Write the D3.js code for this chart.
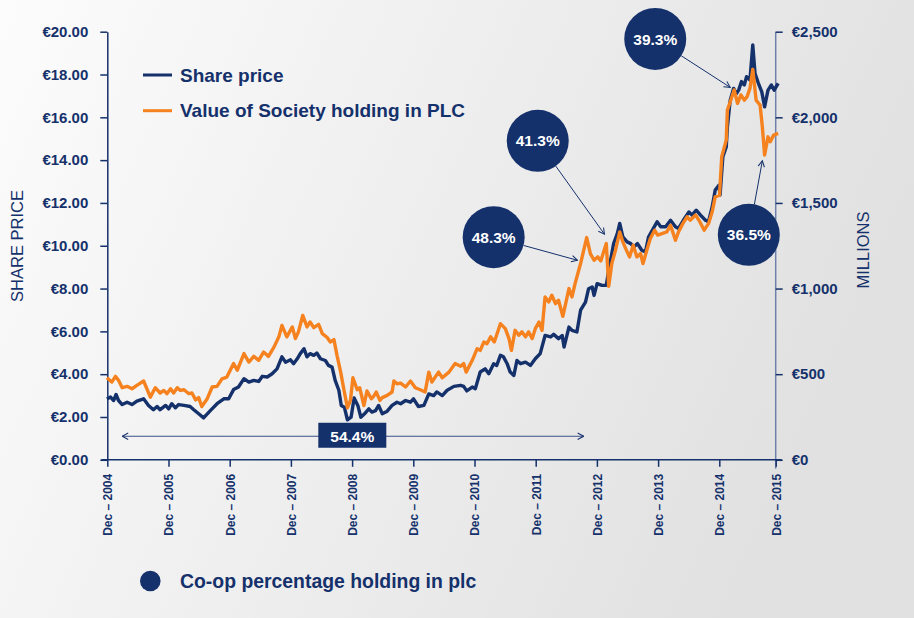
<!DOCTYPE html>
<html>
<head>
<meta charset="utf-8">
<script src="https://cdnjs.cloudflare.com/ajax/libs/d3/7.8.5/d3.min.js"></script>
<style>
  html, body { margin: 0; padding: 0; }
  body { width: 914px; height: 618px; overflow: hidden; }
  text { font-family: "Liberation Sans", Arial, Helvetica, sans-serif; }
</style>
</head>
<body>
<div id="chart"></div>
<script>
// Share price (EUR), [decimal year, price]
const sharePrice = [
  [2004.91, 2.84], [2004.97, 2.93], [2005.02, 2.77], [2005.06, 3.05], [2005.10, 2.77],
  [2005.16, 2.58], [2005.24, 2.69], [2005.32, 2.58], [2005.40, 2.74], [2005.51, 2.85],
  [2005.59, 2.54], [2005.67, 2.34], [2005.73, 2.49], [2005.78, 2.34], [2005.87, 2.54],
  [2005.92, 2.38], [2005.97, 2.62], [2006.03, 2.43], [2006.08, 2.58], [2006.17, 2.54],
  [2006.27, 2.49], [2006.33, 2.34], [2006.41, 2.15], [2006.49, 1.96], [2006.60, 2.30],
  [2006.71, 2.62], [2006.82, 2.85], [2006.90, 2.85], [2006.98, 3.28], [2007.06, 3.40],
  [2007.15, 3.79], [2007.23, 3.63], [2007.31, 3.71], [2007.39, 3.66], [2007.45, 3.90],
  [2007.53, 3.87], [2007.61, 4.02], [2007.69, 4.25], [2007.77, 4.81], [2007.83, 4.56],
  [2007.91, 4.67], [2007.96, 4.49], [2008.02, 4.72], [2008.07, 4.96], [2008.13, 5.19],
  [2008.18, 4.81], [2008.23, 4.96], [2008.29, 4.88], [2008.34, 4.99], [2008.40, 4.72],
  [2008.48, 4.64], [2008.53, 4.41], [2008.59, 4.33], [2008.64, 3.71], [2008.70, 3.25],
  [2008.74, 2.54], [2008.79, 2.46], [2008.84, 1.87], [2008.90, 1.99], [2008.95, 2.89],
  [2009.01, 2.54], [2009.06, 1.99], [2009.12, 2.15], [2009.19, 2.38], [2009.24, 2.23],
  [2009.30, 2.30], [2009.35, 2.54], [2009.41, 2.15], [2009.49, 2.27], [2009.57, 2.54],
  [2009.65, 2.69], [2009.71, 2.62], [2009.79, 2.77], [2009.87, 2.69], [2009.92, 2.85],
  [2010.00, 2.49], [2010.09, 2.54], [2010.17, 3.08], [2010.25, 3.00], [2010.30, 3.17],
  [2010.39, 3.00], [2010.47, 3.25], [2010.58, 3.43], [2010.69, 3.48], [2010.74, 3.43],
  [2010.79, 3.22], [2010.88, 3.40], [2010.93, 3.32], [2011.01, 4.10], [2011.09, 4.25],
  [2011.15, 4.02], [2011.23, 4.49], [2011.28, 4.41], [2011.34, 4.88], [2011.39, 4.81],
  [2011.45, 4.49], [2011.50, 4.10], [2011.56, 3.94], [2011.61, 4.64], [2011.67, 4.49],
  [2011.75, 4.56], [2011.83, 4.41], [2011.91, 4.72], [2011.99, 4.96], [2012.07, 5.81],
  [2012.16, 5.74], [2012.21, 5.86], [2012.29, 5.66], [2012.35, 5.81], [2012.38, 5.27],
  [2012.46, 6.20], [2012.51, 6.05], [2012.59, 5.97], [2012.65, 6.99], [2012.73, 7.37],
  [2012.78, 7.99], [2012.84, 8.07], [2012.87, 7.68], [2012.92, 8.23], [2013.00, 8.15],
  [2013.07, 8.15], [2013.11, 8.86], [2013.19, 10.10], [2013.25, 10.57], [2013.29, 11.04],
  [2013.34, 10.41], [2013.41, 10.18], [2013.47, 10.10], [2013.52, 9.94], [2013.58, 10.10],
  [2013.65, 9.79], [2013.71, 9.71], [2013.76, 10.41], [2013.84, 10.81], [2013.90, 11.12],
  [2013.96, 10.89], [2014.04, 10.89], [2014.12, 11.19], [2014.20, 10.89], [2014.25, 10.81],
  [2014.33, 11.19], [2014.42, 11.58], [2014.47, 11.43], [2014.54, 11.66], [2014.61, 11.43],
  [2014.69, 11.19], [2014.74, 11.12], [2014.80, 11.81], [2014.85, 12.60], [2014.91, 12.83],
  [2014.93, 12.37], [2014.98, 14.16], [2015.04, 14.62], [2015.06, 15.55], [2015.11, 16.80],
  [2015.17, 17.35], [2015.22, 17.11], [2015.26, 17.27], [2015.31, 17.67], [2015.36, 17.51],
  [2015.40, 17.90], [2015.46, 17.74], [2015.51, 19.38], [2015.55, 18.05], [2015.61, 17.59],
  [2015.67, 17.19], [2015.72, 16.49], [2015.78, 17.27], [2015.84, 17.51], [2015.89, 17.27],
  [2015.96, 17.59]
];

// Value of Society holding in PLC (EUR millions), [decimal year, value]
const societyHolding = [
  [2004.91, 479], [2004.99, 454], [2005.05, 487], [2005.10, 464], [2005.16, 421],
  [2005.24, 429], [2005.32, 415], [2005.40, 435], [2005.51, 460], [2005.62, 366],
  [2005.70, 421], [2005.78, 390], [2005.84, 405], [2005.89, 386], [2005.95, 415],
  [2006.00, 390], [2006.06, 421], [2006.11, 405], [2006.17, 409], [2006.25, 386],
  [2006.30, 390], [2006.36, 350], [2006.41, 363], [2006.46, 311], [2006.55, 357],
  [2006.63, 425], [2006.71, 429], [2006.79, 473], [2006.87, 483], [2006.98, 562],
  [2007.04, 523], [2007.15, 620], [2007.23, 571], [2007.31, 604], [2007.39, 581],
  [2007.47, 629], [2007.55, 604], [2007.64, 658], [2007.72, 718], [2007.77, 785],
  [2007.85, 718], [2007.94, 776], [2007.99, 708], [2008.04, 747], [2008.11, 843],
  [2008.18, 776], [2008.23, 805], [2008.29, 772], [2008.37, 791], [2008.43, 737],
  [2008.51, 714], [2008.56, 688], [2008.62, 702], [2008.67, 610], [2008.73, 512],
  [2008.78, 415], [2008.84, 304], [2008.89, 347], [2008.93, 479], [2009.00, 409],
  [2009.04, 421], [2009.11, 317], [2009.16, 402], [2009.23, 357], [2009.27, 371],
  [2009.31, 396], [2009.37, 347], [2009.41, 363], [2009.49, 376], [2009.57, 396],
  [2009.60, 460], [2009.65, 444], [2009.71, 448], [2009.79, 425], [2009.87, 460],
  [2009.95, 421], [2010.03, 409], [2010.11, 396], [2010.17, 512], [2010.22, 454],
  [2010.33, 512], [2010.39, 479], [2010.50, 512], [2010.60, 562], [2010.69, 546],
  [2010.74, 562], [2010.78, 512], [2010.88, 581], [2010.96, 649], [2011.01, 639],
  [2011.07, 688], [2011.12, 678], [2011.18, 718], [2011.24, 688], [2011.34, 795],
  [2011.42, 766], [2011.48, 708], [2011.52, 639], [2011.58, 756], [2011.64, 727],
  [2011.69, 747], [2011.75, 718], [2011.80, 747], [2011.86, 708], [2011.91, 766],
  [2011.97, 805], [2012.02, 756], [2012.07, 951], [2012.13, 922], [2012.18, 961],
  [2012.24, 912], [2012.29, 932], [2012.36, 838], [2012.46, 1000], [2012.51, 951],
  [2012.56, 1029], [2012.65, 1146], [2012.75, 1298], [2012.81, 1204], [2012.87, 1165],
  [2012.93, 1185], [2012.98, 1161], [2013.07, 1263], [2013.11, 1013], [2013.16, 1146],
  [2013.22, 1223], [2013.29, 1331], [2013.34, 1273], [2013.40, 1223], [2013.45, 1185],
  [2013.51, 1253], [2013.57, 1185], [2013.63, 1204], [2013.67, 1146], [2013.74, 1234],
  [2013.79, 1292], [2013.86, 1341], [2013.91, 1312], [2013.98, 1321], [2014.06, 1331],
  [2014.12, 1370], [2014.20, 1282], [2014.25, 1331], [2014.32, 1379], [2014.39, 1419],
  [2014.44, 1399], [2014.53, 1429], [2014.60, 1389], [2014.67, 1341], [2014.74, 1379],
  [2014.80, 1448], [2014.85, 1535], [2014.92, 1545], [2014.96, 1770], [2015.04, 1867],
  [2015.06, 2042], [2015.12, 2100], [2015.18, 2160], [2015.24, 2081], [2015.30, 2131],
  [2015.36, 2100], [2015.41, 2121], [2015.46, 2169], [2015.51, 2280], [2015.57, 2100],
  [2015.64, 2071], [2015.68, 1944], [2015.72, 1780], [2015.78, 1886], [2015.82, 1857],
  [2015.88, 1896], [2015.96, 1906]
];

const tickYears = [2004, 2005, 2006, 2007, 2008, 2009, 2010, 2011, 2012, 2013, 2014, 2015];
const priceTicks = [0, 2, 4, 6, 8, 10, 12, 14, 16, 18, 20];
const holdingTicks = [0, 500, 1000, 1500, 2000, 2500];

// Co-op percentage holding callouts: circle at (year, price), arrow pointing to (year, price)
const calloutLabels = ["39.3%", "41.3%", "48.3%", "36.5%"];
const calloutCentre = [[2013.87, 19.66], [2011.95, 14.90], [2011.23, 10.40], [2015.44, 10.51]];
const calloutTarget = [[2015.11, 17.40], [2013.04, 10.54], [2012.60, 9.32], [2015.68, 13.97]];
// Span arrow along the bottom
const spanLabel = "54.4%";
const spanRange = [2005.16, 2012.70];
const spanLevel = 1.10;
const spanLabelYear = 2008.92;

const navy = "#15316b";
const orange = "#f5821f";

const width = 914, height = 618;

const svg = d3.select("#chart").append("svg")
    .attr("width", width)
    .attr("height", height);

const defs = svg.append("defs");
const grad = defs.append("linearGradient")
    .attr("id", "bg")
    .attr("x1", "0").attr("y1", "0").attr("x2", "1").attr("y2", "0.3");
grad.append("stop").attr("offset", "0%").attr("stop-color", "#fcfcfc");
grad.append("stop").attr("offset", "100%").attr("stop-color", "#e1e1e1");

defs.append("marker")
    .attr("id", "arrow")
    .attr("viewBox", "0 0 10 10")
    .attr("refX", 9.5).attr("refY", 5)
    .attr("markerWidth", 8).attr("markerHeight", 8)
    .attr("markerUnits", "userSpaceOnUse")
    .attr("orient", "auto-start-reverse")
    .append("path")
    .attr("d", "M2,1 L9.5,5 L2,9")
    .attr("fill", "none")
    .attr("stroke", navy)
    .attr("stroke-width", 1.3);

svg.append("rect")
    .attr("width", width)
    .attr("height", height)
    .attr("fill", "url(#bg)");

const xScale = d3.scaleLinear()
    .domain([2004 + 11 / 12, 2014 + 11 / 12, 2015 + 11 / 12])
    .range([107.3, 719.3, 775.7]);

const yPrice = d3.scaleLinear()
    .domain([0, 20])
    .range([459.8, 31.7]);

const yHolding = d3.scaleLinear()
    .domain([0, 2500])
    .range([459.8, 31.7]);

// Left axis
const leftAxis = svg.append("g")
    .attr("transform", `translate(${xScale.range()[0]},0)`)
    .call(d3.axisLeft(yPrice)
        .tickValues(priceTicks)
        .tickSize(7)
        .tickSizeOuter(0)
        .tickPadding(12)
        .tickFormat(d => "€" + d.toFixed(2)));
leftAxis.select(".domain").attr("stroke", navy).attr("stroke-width", 1.5);
leftAxis.selectAll(".tick line").attr("stroke", navy).attr("stroke-width", 1.5);
leftAxis.selectAll(".tick text")
    .attr("fill", navy)
    .style("font-size", "15px")
    .style("font-weight", "bold");

// Right axis
const xEnd = xScale(2015 + 11 / 12);
svg.append("line")
    .attr("x1", xEnd).attr("x2", xEnd)
    .attr("y1", yHolding(2500)).attr("y2", yHolding(0) + 9)
    .attr("stroke", "#6f80aa")
    .attr("stroke-width", 1.5);
const rightAxis = svg.append("g")
    .attr("transform", `translate(${xEnd},0)`)
    .call(d3.axisRight(yHolding)
        .tickValues(holdingTicks)
        .tickSize(7)
        .tickSizeOuter(0)
        .tickPadding(9)
        .tickFormat(d => "€" + d3.format(",")(d)));
rightAxis.select(".domain").remove();
rightAxis.selectAll(".tick line").attr("stroke", navy).attr("stroke-width", 1.5);
rightAxis.selectAll(".tick text")
    .attr("fill", navy)
    .style("font-size", "15px")
    .style("font-weight", "bold");

// Bottom axis
svg.append("line")
    .attr("x1", xScale.range()[0] - 6).attr("x2", xEnd + 6)
    .attr("y1", yPrice(0)).attr("y2", yPrice(0))
    .attr("stroke", navy)
    .attr("stroke-width", 1.5);
const bottomAxis = svg.append("g")
    .attr("transform", `translate(0,${yPrice(0)})`)
    .call(d3.axisBottom(xScale)
        .tickValues(tickYears.map(y => y + 11 / 12))
        .tickSize(7)
        .tickSizeOuter(0)
        .tickFormat((d, i) => "Dec – " + tickYears[i]));
bottomAxis.select(".domain").remove();
bottomAxis.selectAll(".tick line").attr("stroke", navy).attr("stroke-width", 1.5);
bottomAxis.selectAll(".tick text")
    .attr("fill", navy)
    .attr("transform", "rotate(-90)")
    .attr("x", -14)
    .attr("y", 0)
    .attr("dy", "0.36em")
    .style("text-anchor", "end")
    .style("font-size", "12px")
    .style("font-weight", "bold");

// Axis titles
svg.append("text")
    .attr("transform", "translate(23,246) rotate(-90)")
    .style("text-anchor", "middle")
    .style("font-size", "16.5px")
    .attr("fill", navy)
    .text("SHARE PRICE");

svg.append("text")
    .attr("transform", "translate(869,250) rotate(-90)")
    .style("text-anchor", "middle")
    .style("font-size", "16.5px")
    .attr("fill", navy)
    .text("MILLIONS");

// Lines
const priceLine = d3.line()
    .x(d => xScale(d[0]))
    .y(d => yPrice(d[1]));

const holdingLine = d3.line()
    .x(d => xScale(d[0]))
    .y(d => yHolding(d[1]));

svg.append("path")
    .datum(sharePrice)
    .attr("d", priceLine)
    .attr("fill", "none")
    .attr("stroke", navy)
    .attr("stroke-width", 3.4)
    .attr("stroke-linejoin", "round");

svg.append("path")
    .datum(societyHolding)
    .attr("d", holdingLine)
    .attr("fill", "none")
    .attr("stroke", orange)
    .attr("stroke-width", 3.4)
    .attr("stroke-linejoin", "round");

// Span arrow with label box
svg.append("line")
    .attr("x1", xScale(spanRange[0])).attr("x2", xScale(spanRange[1]))
    .attr("y1", yPrice(spanLevel)).attr("y2", yPrice(spanLevel))
    .attr("stroke", "#3a5089")
    .attr("stroke-width", 1)
    .attr("marker-start", "url(#arrow)")
    .attr("marker-end", "url(#arrow)");

svg.append("rect")
    .attr("x", xScale(spanLabelYear) - 34)
    .attr("y", yPrice(spanLevel) - 13.5)
    .attr("width", 68)
    .attr("height", 25)
    .attr("fill", navy);

svg.append("text")
    .attr("x", xScale(spanLabelYear))
    .attr("y", yPrice(spanLevel))
    .attr("dy", "0.36em")
    .style("text-anchor", "middle")
    .style("font-size", "15.5px")
    .style("font-weight", "bold")
    .attr("fill", "#ffffff")
    .text(spanLabel);

// Callouts
const r = 31;
calloutLabels.forEach((label, i) => {
    const cx = xScale(calloutCentre[i][0]);
    const cy = yPrice(calloutCentre[i][1]);
    const tx = xScale(calloutTarget[i][0]);
    const ty = yPrice(calloutTarget[i][1]);
    const len = Math.hypot(tx - cx, ty - cy);
    const ux = (tx - cx) / len, uy = (ty - cy) / len;

    svg.append("line")
        .attr("x1", cx + ux * r).attr("y1", cy + uy * r)
        .attr("x2", tx).attr("y2", ty)
        .attr("stroke", navy)
        .attr("stroke-width", 1)
        .attr("marker-end", "url(#arrow)");

    svg.append("circle")
        .attr("cx", cx)
        .attr("cy", cy)
        .attr("r", r)
        .attr("fill", navy);

    svg.append("text")
        .attr("x", cx)
        .attr("y", cy)
        .attr("dy", "0.36em")
        .style("text-anchor", "middle")
        .style("font-size", "15.5px")
        .style("font-weight", "bold")
        .attr("fill", "#ffffff")
        .text(label);
});

// Legend
const legend = [
    { label: "Share price", color: navy, y: 75 },
    { label: "Value of Society holding in PLC", color: orange, y: 110.7 }
];
legend.forEach(l => {
    svg.append("line")
        .attr("x1", 143).attr("x2", 172)
        .attr("y1", l.y).attr("y2", l.y)
        .attr("stroke", l.color)
        .attr("stroke-width", 3);
    svg.append("text")
        .attr("x", 180)
        .attr("y", l.y + 6.6)
        .style("font-size", "19px")
        .style("font-weight", "bold")
        .attr("fill", navy)
        .text(l.label);
});

svg.append("circle")
    .attr("cx", 150.3)
    .attr("cy", 581)
    .attr("r", 10.3)
    .attr("fill", navy);

svg.append("text")
    .attr("x", 180)
    .attr("y", 587.5)
    .style("font-size", "19.4px")
    .style("font-weight", "bold")
    .attr("fill", navy)
    .text("Co-op percentage holding in plc");
</script>
</body>
</html>
